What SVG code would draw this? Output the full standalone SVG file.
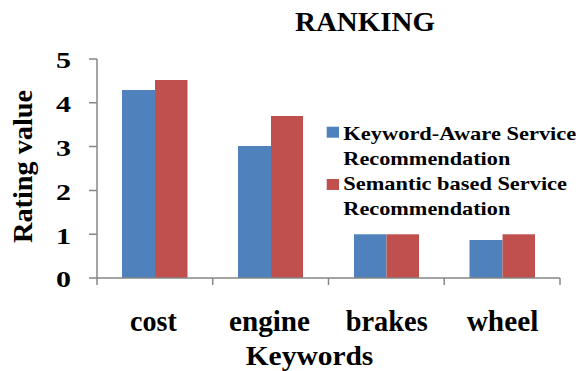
<svg xmlns="http://www.w3.org/2000/svg" width="580" height="371" viewBox="0 0 580 371">
<style>
text{font-family:"Liberation Serif","Times New Roman","DejaVu Serif",serif;font-weight:bold;fill:#000}
.ax{stroke:#868686;stroke-width:1.5;fill:none}
.b{fill:#4F81BD}
.r{fill:#C0504D}
</style>
<rect width="580" height="371" fill="#fff"/>
<text x="365" y="31" font-size="27" text-anchor="middle" textLength="140" lengthAdjust="spacingAndGlyphs">RANKING</text>
<g id="yaxis">
<path class="ax" d="M97 59V278M89 59H97M89 102.8H97M89 146.6H97M89 190.4H97M89 234.2H97M89 278H97"/>
<g font-size="23" text-anchor="end">
<text x="71" y="68.3" textLength="15" lengthAdjust="spacingAndGlyphs">5</text>
<text x="71" y="112.1" textLength="15" lengthAdjust="spacingAndGlyphs">4</text>
<text x="71" y="155.9" textLength="15" lengthAdjust="spacingAndGlyphs">3</text>
<text x="71" y="199.7" textLength="15" lengthAdjust="spacingAndGlyphs">2</text>
<text x="71" y="243.5" textLength="15" lengthAdjust="spacingAndGlyphs">1</text>
<text x="71" y="287.3" textLength="15" lengthAdjust="spacingAndGlyphs">0</text>
</g>
<text font-size="28" text-anchor="middle" transform="translate(32 166.5) rotate(-90)" textLength="153" lengthAdjust="spacingAndGlyphs">Rating value</text>
</g>
<g id="bars">
<rect class="b" x="122" y="90" width="33" height="188"/>
<rect class="r" x="155" y="80" width="32.5" height="198"/>
<rect class="b" x="238" y="146" width="33" height="132"/>
<rect class="r" x="271" y="116" width="32" height="162"/>
<rect class="b" x="354" y="234.3" width="32.5" height="43.7"/>
<rect class="r" x="386.5" y="234.3" width="32.5" height="43.7"/>
<rect class="b" x="469.5" y="240" width="33" height="38"/>
<rect class="r" x="502.5" y="234.3" width="32.5" height="43.7"/>
</g>
<g id="xaxis">
<path class="ax" d="M97 278H560M97 278V285M212.7 278V285M328.5 278V285M444.2 278V285M560 278V285"/>
<g font-size="29" text-anchor="middle">
<text x="153.4" y="330.7" textLength="46.7" lengthAdjust="spacingAndGlyphs">cost</text>
<text x="269.5" y="330.7" textLength="81" lengthAdjust="spacingAndGlyphs">engine</text>
<text x="386.7" y="330.7" textLength="82" lengthAdjust="spacingAndGlyphs">brakes</text>
<text x="502.5" y="330.7" textLength="71.7" lengthAdjust="spacingAndGlyphs">wheel</text>
</g>
<text x="309.5" y="364.5" font-size="28" text-anchor="middle" textLength="127.6" lengthAdjust="spacingAndGlyphs">Keywords</text>
</g>
<g id="legend">
<rect class="b" x="326.7" y="126.7" width="12.3" height="11"/>
<rect class="r" x="326.7" y="179" width="12.3" height="11"/>
<g font-size="19">
<text x="343.3" y="140" textLength="233" lengthAdjust="spacingAndGlyphs">Keyword-Aware Service</text>
<text x="343.3" y="165" textLength="167" lengthAdjust="spacingAndGlyphs">Recommendation</text>
<text x="343.3" y="190" textLength="223.7" lengthAdjust="spacingAndGlyphs">Semantic based Service</text>
<text x="343.3" y="214.5" textLength="167" lengthAdjust="spacingAndGlyphs">Recommendation</text>
</g>
</g>
</svg>
